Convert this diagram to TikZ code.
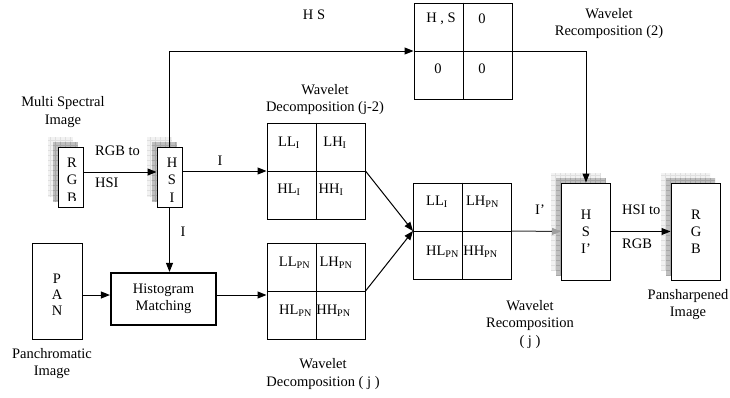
\documentclass[tikz,border=0pt]{standalone}
\usepackage{fontspec}
\setmainfont{Liberation Serif}
\usetikzlibrary{arrows.meta}
\newcommand{\stackshadow}[4]{%
  \begin{scope}
    \clip (#1-10,#2-10) rectangle (#3-10,#4-10);
    \fill[gray!10] (#1-10,#2-10) rectangle (#3-10,#4-10);
    \draw[gray!25, line width=0.4pt, step=5pt] (#1-10,#2-10) grid (#3-10,#4-10);
  \end{scope}
  \begin{scope}
    \clip (#1-5,#2-5) rectangle (#3-5,#4-5);
    \fill[gray!50] (#1-5,#2-5) rectangle (#3-5,#4-5);
    \draw[gray!70, line width=0.4pt, step=5pt] (#1-5,#2-5) grid (#3-5,#4-5);
  \end{scope}}
\newcommand{\sbs}[1]{\textsubscript{#1}}
\begin{document}
\begin{tikzpicture}[x=1pt,y=-1pt,
  every node/.style={font=\fontsize{14.5}{17.5}\selectfont, inner sep=0pt},
  box/.style={draw, line width=1pt, fill=white},
  gridbox/.style={box, minimum width=98pt, minimum height=96pt},
  tall/.style={box, minimum width=25pt, minimum height=60pt},
  big/.style={box, minimum width=49pt, minimum height=97pt},
  lbl/.style={align=center},
  ln/.style={line width=1pt},
  arr/.style={line width=1pt, -{Triangle[length=9pt,width=7pt]}},
  garr/.style={line width=1pt, draw=black!80, -{Triangle[length=9pt,width=7pt,color=gray!75,fill=gray!75]}},
]
\useasboundingbox (0,0) rectangle (730,397);

% shadows
\stackshadow{58}{147}{83}{207}
\stackshadow{157}{147}{182}{207}
\stackshadow{561}{183}{611}{280}
\stackshadow{671}{183}{720}{280}

% boxes
\node[tall] (rgb) at (70.5,177) {};
\node[tall] (hsi) at (169.5,177) {};
\node[box, minimum width=50pt, minimum height=96pt] (pan) at (57,291) {};
\node[box, line width=2.2pt, minimum width=105pt, minimum height=52pt, align=center] (hist) at (163.5,299) {Histogram\\Matching};
\node[gridbox] (hs) at (463,51) {};
\node[gridbox] (wdi) at (316,171) {};
\node[gridbox] (wdp) at (316,291) {};
\node[gridbox] (wr) at (462.5,231) {};
\node[big] (hsip) at (586,231.5) {};
\node[big] (rgbo) at (695.5,231.5) {};

\foreach \n in {hs,wdi,wdp,wr} {
  \draw[ln] (\n.north) -- (\n.south);
  \draw[ln] (\n.west) -- (\n.east);
}

% box texts
\begin{scope}
  \clip (58,147) rectangle (83,200);
  \node[align=center] (rgbt) at (72,180) {R\\G\\B};
\end{scope}
\node[align=center] (hsit) at (172,180) {H\\S\\I};
\node[align=center, font=\fontsize{14.5}{16}\selectfont] (pant) at (57,295) {P\\A\\N};
\node[align=center, font=\fontsize{14.5}{17}\selectfont] (hsipt) at (586,232) {H\\S\\I’};
\node[align=center, font=\fontsize{14.5}{17}\selectfont] (rgbot) at (696,232) {R\\G\\B};

% cell texts
\node (c1) at (441,19) {H , S};
\node (c2) at (482,19) {0};
\node (c3) at (438,69) {0};
\node (c4) at (482,69) {0};

\node (d1) at (289,143) {LL\sbs{I}};
\node (d2) at (335,143) {LH\sbs{I}};
\node (d3) at (289,190) {HL\sbs{I}};
\node (d4) at (331,190) {HH\sbs{I}};

\node (e1) at (294.5,263) {LL\sbs{PN}};
\node (e2) at (336,263) {LH\sbs{PN}};
\node (e3) at (295.5,311) {HL\sbs{PN}};
\node (e4) at (333.5,311) {HH\sbs{PN}};

\node (f1) at (437,202) {LL\sbs{I}};
\node (f2) at (482.5,202) {LH\sbs{PN}};
\node (f3) at (442.5,252) {HL\sbs{PN}};
\node (f4) at (480.5,252) {HH\sbs{PN}};

% connectors
\draw[arr] ([yshift=5pt]rgb.east) -- ([yshift=5pt]hsi.west);
\draw[arr] (hsi.north) |- (hs.west);
\draw[arr] (hsi.east |- wdi.west) -- (wdi.west);
\draw[arr] (hsi.south) -- (hsi.south |- hist.north);
\draw[arr] ([yshift=-4pt]pan.east) -- ([yshift=-4pt]pan.east -| hist.west);
\draw[arr] ([yshift=4pt]hist.east) -- ([yshift=4pt]hist.east -| wdp.west);
\draw[arr] (wdi.east) -- (wr.west);
\draw[arr] (wdp.east) -- (wr.west);
\draw[arr] (hs.east) -| (hsip.north);
\draw[garr] (wr.east) -- (hsip.west);
\draw[arr] (hsip.east) -- (rgbo.west);

% labels
\node (lhs) at (314,15) {H S};
\node[lbl] (lms) at (63,112) {Multi Spectral\\Image};
\node[lbl] (lpan) at (52,363.5) {Panchromatic\\Image};
\node[lbl] (lpsh) at (688,304.5) {Pansharpened\\Image};
\node[lbl] (lwr2) at (609,23.5) {Wavelet\\Recomposition (2)};
\node[lbl] (lwd2) at (325,99.5) {Wavelet\\Decomposition (j-2)};
\node[lbl] (lwdj) at (323,374) {Wavelet\\Decomposition ( j )};
\node[lbl] (lwrj) at (530,324.5) {Wavelet\\Recomposition\\( j )};
\node[anchor=west] (lrgb1) at (95,151) {RGB to};
\node[anchor=west] (lrgb2) at (95,183) {HSI};
\node (li1) at (220,161) {I};
\node (li2) at (183,232) {I};
\node (li3) at (540,210) {I’};
\node[anchor=west] (lhsi1) at (622,210) {HSI to};
\node[anchor=west] (lhsi2) at (622,244) {RGB};
\end{tikzpicture}
\end{document}
